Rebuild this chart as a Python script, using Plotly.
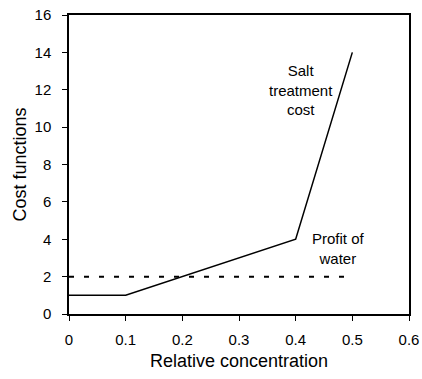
import plotly.graph_objects as go

conc = [0, 0.1, 0.4, 0.5]
salt_cost = [1, 1, 4, 14]
profit_x = [0, 0.5]
profit_y = [2, 2]
x_ticks = [0, 0.1, 0.2, 0.3, 0.4, 0.5, 0.6]
x_tick_labels = ["0", "0.1", "0.2", "0.3", "0.4", "0.5", "0.6"]
y_ticks = [0, 2, 4, 6, 8, 10, 12, 14, 16]

fig = go.Figure()
fig.add_trace(go.Scatter(x=conc, y=salt_cost, mode="lines",
                         line=dict(color="black", width=1.5), showlegend=False))
fig.add_trace(go.Scatter(x=profit_x, y=profit_y, mode="lines",
                         line=dict(color="black", width=2, dash="5px,10px"), showlegend=False))

fig.add_annotation(x=0.41, y=12, text="Salt<br>treatment<br>cost", showarrow=False,
                   font=dict(size=15, color="black"), align="center")
fig.add_annotation(x=0.475, y=3.5, text="Profit of<br>water", showarrow=False,
                   font=dict(size=15, color="black"), align="center")

fig.update_layout(
    width=422, height=379,
    margin=dict(l=69, r=13, t=15, b=65),
    paper_bgcolor="white", plot_bgcolor="white",
    font=dict(family="Liberation Sans, Arial, sans-serif", size=15, color="black"),
)
fig.update_xaxes(range=[0, 0.6], tickvals=x_ticks, ticktext=x_tick_labels, automargin=False,
                 showgrid=False, zeroline=False, showline=True, linecolor="black", linewidth=1.5,
                 mirror=True, ticks="outside", ticklen=5, tickcolor="black", ticklabelstandoff=6,
                 ticklabeloverflow="allow",
                 title=dict(text="Relative concentration", standoff=8))
fig.update_yaxes(range=[0, 16], tickvals=y_ticks, automargin=False,
                 showgrid=False, zeroline=False, showline=True, linecolor="black", linewidth=1.5,
                 mirror=True, ticks="outside", ticklen=5, tickcolor="black", ticklabelstandoff=8,
                 ticklabeloverflow="allow",
                 title=dict(text="Cost functions", standoff=3))

fig.write_html("out.html", config={"displayModeBar": False},
               post_script="document.body.style.margin='0';")
